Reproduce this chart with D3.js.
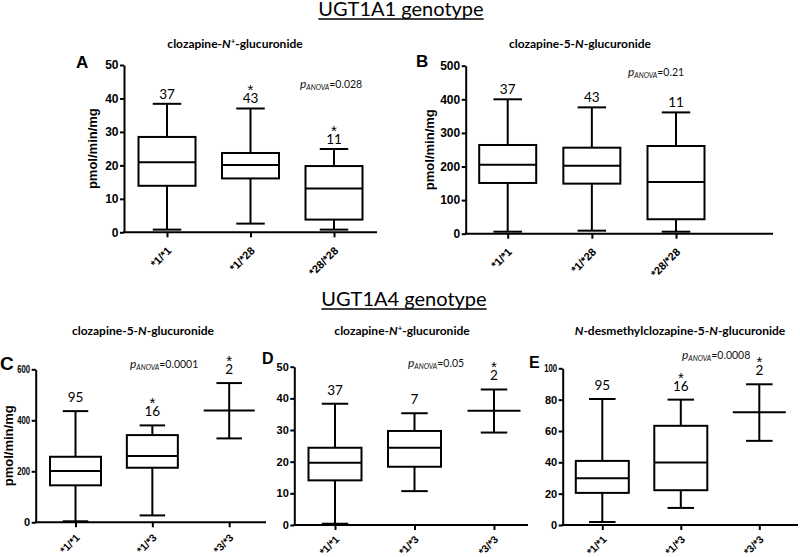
<!DOCTYPE html>
<html><head><meta charset="utf-8">
<script src="https://cdn.jsdelivr.net/npm/d3@7"></script>
<style>body{margin:0;background:#fff}</style>
</head><body><svg id="c" width="800" height="557"></svg>
<script>
// ---------------- data ----------------
const genotypes1A1 = ["*1/*1", "*1/*28", "*28/*28"];
const genotypes1A4 = ["*1/*1", "*1/*3", "*3/*3"];
// [min, q1, median, q3, max]; two-sample groups: [min, null, mean, null, max]
const statsA = [[0.8, 13.9, 20.9, 28.5, 38.4], [2.6, 16.1, 20.1, 23.7, 37.0], [0.8, 3.8, 13.1, 19.8, 24.9]];
const statsB = [[6, 151, 205, 264, 400], [9, 149, 202, 256, 376], [6, 43, 154, 261, 361]];
const statsC = [[4, 145, 201, 257, 436], [27, 214, 260, 342, 380], [329, null, 438, null, 546]];
const statsD = [[0.4, 14.1, 19.7, 24.4, 38.3], [10.7, 18.4, 24.4, 29.7, 35.3], [29.2, null, 36.1, null, 42.8]];
const statsE = [[1.9, 20.5, 29.9, 40.9, 80.4], [10.9, 22.2, 39.9, 63.3, 80.0], [53.7, null, 71.9, null, 89.8]];
const nA = ["37", "43", "11"], starA = [false, true, true];
const nB = ["37", "43", "11"], starB = [false, false, false];
const nC = ["95", "16", "2"], starC = [false, true, true];
const nD = ["37", "7", "2"], starD = [false, false, true];
const nE = ["95", "16", "2"], starE = [false, true, true];
const ticksA = [0, 10, 20, 30, 40, 50];
const ticksB = [0, 100, 200, 300, 400, 500];
const ticksC = [0, 200, 400, 600];
const ticksD = [0, 10, 20, 30, 40, 50];
const ticksE = [0, 20, 40, 60, 80, 100];
const pA = "0.028", pB = "0.21", pC = "0.0001", pD = "0.05", pE = "0.0008";
const titleNplus = [["clozapine-", 0], ["N", 1], ["+", 2], ["-glucuronide", 0]];
const title5N = [["clozapine-5-", 0], ["N", 1], ["-glucuronide", 0]];
const titleDesm = [["N", 1], ["-desmethylclozapine-5-", 0], ["N", 1], ["-glucuronide", 0]];
const yLabel = "pmol/min/mg";

// ---------------- layout ----------------
const panels = [
  {L:"A", cats:genotypes1A1, stats:statsA, n:nA, star:starA, ticks:ticksA, p:pA, title:titleNplus,
   ax:124, yT:65, yB:232.3, c1:167, c3:334, xEnd:377, bw:57, tf:12, lab:{x:76, y:68, s:17},
   ttl:{x:235, y:48}, pp:{x:300, y:88}, ylab:97, off:5, xl:{dy:19, fs:11}},
  {L:"B", cats:genotypes1A1, stats:statsB, n:nB, star:starB, ticks:ticksB, p:pB, title:title5N,
   ax:465.7, yT:65.7, yB:233.7, c1:507.7, c3:676, xEnd:773, bw:57, tf:12, lab:{x:416, y:67, s:17},
   ttl:{x:580, y:48}, pp:{x:628, y:76}, ylab:434, off:5, xl:{dy:19, fs:11}},
  {L:"C", cats:genotypes1A4, stats:statsC, n:nC, star:starC, ticks:ticksC, p:pC, title:title5N,
   ax:35.7, yT:369.3, yB:522.3, c1:75.5, c3:229.2, xEnd:266, bw:51, tf:11, lab:{x:0, y:370, s:19},
   ttl:{x:143, y:335}, pp:{x:130, y:368}, ylab:13, off:9, xl:{dy:16, fs:10.5}},
  {L:"D", cats:genotypes1A4, stats:statsD, n:nD, star:starD, ticks:ticksD, p:pD, title:titleNplus,
   ax:294.3, yT:366.7, yB:525, c1:335, c3:494, xEnd:528, bw:53, tf:11, lab:{x:262, y:364, s:16},
   ttl:{x:402, y:335}, pp:{x:408, y:367}, ylab:null, off:9, xl:{dy:15, fs:10.5}},
  {L:"E", cats:genotypes1A4, stats:statsE, n:nE, star:starE, ticks:ticksE, p:pE, title:titleDesm,
   ax:562.7, yT:368.3, yB:525, c1:602.3, c3:759.3, xEnd:798, bw:53, tf:11, lab:{x:529, y:368, s:16},
   ttl:{x:680, y:335}, pp:{x:682, y:359}, ylab:null, off:9, xl:{dy:15, fs:10.5}}
];

const svg = d3.select("#c");
const ARIAL = "'Liberation Sans', Arial, sans-serif";
const CAL = "Lato, 'Open Sans', sans-serif";

function header(txt, cx, by) {
  const t = svg.append("text").attr("x", cx).attr("y", by).attr("text-anchor", "middle")
    .attr("font-family", CAL).attr("font-size", 20).attr("fill", "#000").text(txt);
  const w = t.node().getComputedTextLength();
  svg.append("line").attr("x1", cx - w / 2).attr("x2", cx + w / 2)
    .attr("y1", by + 3).attr("y2", by + 3).attr("stroke", "#000").attr("stroke-width", 1.4);
}
header("UGT1A1 genotype", 401, 16);
header("UGT1A4 genotype", 404, 306);

panels.forEach(P => {
  const g = svg.append("g");
  const y = d3.scaleLinear().domain([0, d3.max(P.ticks)]).range([P.yB, P.yT]);
  const x = d3.scalePoint().domain(P.cats).range([P.c1, P.c3]);

  // title
  const tt = g.append("text").attr("x", P.ttl.x).attr("y", P.ttl.y).attr("text-anchor", "middle")
    .attr("font-family", CAL).attr("font-size", 12).attr("font-weight", "bold");
  let raised = false;
  P.title.forEach(([s, k]) => {
    const sp = tt.append("tspan").text(s);
    if (k === 1) sp.attr("font-style", "italic");
    if (k === 2) { sp.attr("font-size", 8).attr("dy", -4); raised = true; }
    else if (raised) { sp.attr("dy", 4); raised = false; }
  });

  // panel letter
  g.append("text").attr("x", P.lab.x).attr("y", P.lab.y).attr("font-family", ARIAL)
    .attr("font-weight", "bold").attr("font-size", P.lab.s).text(P.L);

  // y axis
  const ya = g.append("g").attr("transform", `translate(${P.ax},0)`)
    .call(d3.axisLeft(y).tickValues(P.ticks).tickSize(4).tickPadding(1.5).tickSizeOuter(0));
  ya.select(".domain").attr("stroke-width", 2);
  ya.selectAll(".tick line").attr("stroke-width", 2);
  ya.selectAll(".tick text").attr("font-family", ARIAL).attr("font-weight", "bold")
    .attr("font-size", P.tf).attr("fill", "#000")
    .each(function (d) {
      const s = String(d);
      if (P.tf === 11 && s.length === 3) d3.select(this).attr("textLength", 13).attr("lengthAdjust", "spacingAndGlyphs");
    });

  // x axis
  g.append("line").attr("x1", P.ax - 1).attr("x2", P.xEnd).attr("y1", P.yB).attr("y2", P.yB)
    .attr("stroke", "#000").attr("stroke-width", 2);
  const xa = g.append("g").attr("transform", `translate(0,${P.yB})`)
    .call(d3.axisBottom(x).tickSize(5).tickFormat(""));
  xa.select(".domain").remove();
  xa.selectAll(".tick line").attr("stroke-width", 2);
  P.cats.forEach(c => {
    g.append("text").attr("transform", `translate(${x(c) + 5},${P.yB + P.xl.dy}) rotate(-45)`)
      .attr("text-anchor", "end").attr("font-family", ARIAL).attr("font-weight", "bold")
      .attr("font-size", P.xl.fs).text(c);
  });

  // y label
  if (P.ylab !== null) {
    g.append("text").attr("transform", `translate(${P.ylab},${(P.yT + P.yB) / 2}) rotate(-90)`)
      .attr("text-anchor", "middle").attr("font-family", ARIAL).attr("font-weight", "bold")
      .attr("font-size", 13).attr("stroke", "#fff").attr("stroke-width", 4)
      .attr("paint-order", "stroke").attr("fill", "#000").text(yLabel);
  }

  // boxes
  P.cats.forEach((c, i) => {
    const [mn, q1, md, q3, mx] = P.stats[i];
    const cx = x(c), bw = P.bw, cw = bw / 2;
    const ln = (x1, y1, x2, y2) => g.append("line").attr("x1", x1).attr("y1", y1).attr("x2", x2).attr("y2", y2)
      .attr("stroke", "#000").attr("stroke-width", 2);
    ln(cx, y(mn), cx, y(mx));
    ln(cx - cw / 2, y(mx), cx + cw / 2, y(mx));
    ln(cx - cw / 2, y(mn), cx + cw / 2, y(mn));
    if (q1 !== null) {
      g.append("rect").attr("x", cx - bw / 2).attr("y", y(q3)).attr("width", bw).attr("height", y(q1) - y(q3))
        .attr("fill", "#fff").attr("stroke", "#000").attr("stroke-width", 2);
    }
    ln(cx - bw / 2, y(md), cx + bw / 2, y(md));

    const nb = y(mx) - P.off;
    g.append("text").attr("x", cx).attr("y", nb).attr("text-anchor", "middle")
      .attr("font-family", CAL).attr("font-size", 13.5).text(P.n[i]);
    if (P.star[i]) {
      g.append("text").attr("x", cx).attr("y", nb - 8).attr("text-anchor", "middle")
        .attr("font-family", ARIAL).attr("font-size", 15).text("*");
    }
  });

  // p ANOVA
  const pt = g.append("text").attr("x", P.pp.x).attr("y", P.pp.y).attr("font-family", CAL).attr("fill", "#111");
  pt.append("tspan").attr("font-style", "italic").attr("font-size", 12).text("p");
  pt.append("tspan").attr("font-style", "italic").attr("font-size", 7).attr("dy", 1.5).text("ANOVA");
  pt.append("tspan").attr("font-size", 10.5).attr("dy", -1.5).text("=" + P.p);
});
</script></body></html>
